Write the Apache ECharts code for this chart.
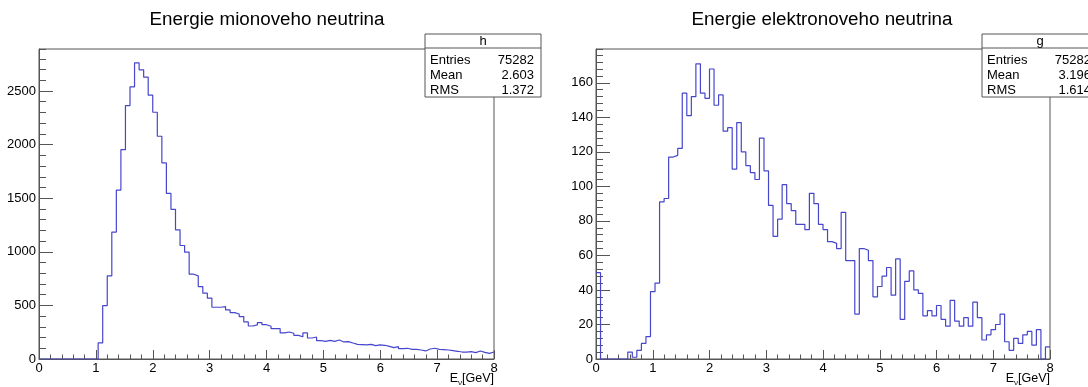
<!DOCTYPE html>
<html>
<head>
<meta charset="utf-8">
<script src="https://cdn.jsdelivr.net/npm/echarts@6/dist/echarts.min.js"></script>
<style>
  html, body { margin: 0; padding: 0; background: #fff; }
  #chart { width: 1088px; height: 387px; }
</style>
</head>
<body>
<div id="chart"></div>
<script>
// histogram binning: 100 bins from 0 to 8 GeV
const xMin = 0;
const xMax = 8;
const binWidth = 0.08;

// muon neutrino energy, counts per bin
const muonCounts = [
  0, 0, 0, 0, 0, 0, 0, 0, 0, 0,
  0, 0, 0, 150, 498, 776, 1184, 1576, 1953, 2364,
  2539, 2763, 2698, 2629, 2461, 2302, 2078, 1829, 1545, 1396,
  1205, 1059, 997, 791, 776, 676, 614, 567, 483, 483,
  489, 458, 433, 420, 396, 346, 308, 318, 340, 320,
  305, 283, 283, 243, 252, 240, 221, 208, 243, 196,
  205, 171, 165, 174, 165, 177, 159, 162, 149, 137,
  134, 131, 137, 125, 131, 128, 118, 106, 115, 96,
  100, 90, 90, 84, 75, 93, 100, 90, 87, 84,
  78, 72, 65, 65, 68, 59, 75, 62, 53, 65
];

// electron neutrino energy, counts per bin
const electronCounts = [
  50, 0, 0, 0, 0, 0, 0, 4, 1, 5,
  9, 13, 39, 44, 91, 93, 117, 118, 122, 154,
  141, 152, 171, 154, 151, 168, 147, 153, 132, 134,
  110, 137, 120, 112, 108, 104, 128, 109, 89, 71,
  81, 101, 90, 86, 78, 78, 75, 96, 90, 78,
  75, 68, 67, 64, 85, 57, 57, 26, 64, 63,
  57, 36, 42, 48, 53, 37, 58, 23, 45, 51,
  40, 38, 25, 28, 25, 31, 23, 19, 34, 22,
  19, 24, 19, 33, 24, 11, 14, 17, 20, 26,
  10, 5, 12, 9, 14, 16, 8, 17, 0, 7
];

const titles = ["Energie mionoveho neutrina", "Energie elektronoveho neutrina"];
const statNames = ["h", "g"];
const statLabels = ["Entries", "Mean", "RMS"];
const muonStats = ["75282", "2.603", "1.372"];
const electronStats = ["75282", "3.196", "1.614"];

const yMaxes = [2892, 179.6];
const yMajor = [500, 20];
const yMinor = [100, 4];

function stepData(counts) {
  const pts = counts.map((v, i) => [xMin + i * binWidth, v]);
  pts.push([xMax, counts[counts.length - 1]]);
  return pts;
}

const axisColor = "#555";
const lineColor = "#4646cc";
const font = "Liberation Sans, Arial, Helvetica, sans-serif";

const grids = [
  { left: 39, top: 49, width: 455, height: 310 },
  { left: 596, top: 49, width: 454, height: 310 }
];

const xAxes = grids.map((g, i) => ({
  type: "value",
  gridIndex: i,
  min: xMin,
  max: xMax,
  interval: 1,
  axisLine: { lineStyle: { color: axisColor, width: 1 } },
  axisTick: { inside: true, length: 9, lineStyle: { color: axisColor } },
  minorTick: { show: true, splitNumber: 5, length: 4.5, lineStyle: { color: axisColor } },
  splitLine: { show: false },
  axisLabel: { color: "#000", fontSize: 13, fontFamily: font, margin: 3 }
}));

const yAxes = [];
grids.forEach((g, i) => {
  yAxes.push({
    type: "value",
    gridIndex: i,
    position: "left",
    min: 0,
    max: yMaxes[i],
    interval: yMajor[i],
    axisLine: { show: true, lineStyle: { color: axisColor, width: 1 } },
    axisTick: { inside: true, length: 14, lineStyle: { color: axisColor } },
    splitLine: { show: false },
    axisLabel: {
      color: "#000", fontSize: 13, fontFamily: font, margin: 3, showMaxLabel: false,
      formatter: v => String(v)
    }
  });
  yAxes.push({
    type: "value",
    gridIndex: i,
    position: "left",
    min: 0,
    max: yMaxes[i],
    interval: yMinor[i],
    axisLine: { show: false },
    axisTick: { show: true, inside: true, length: 7, lineStyle: { color: axisColor } },
    splitLine: { show: false },
    axisLabel: { show: false }
  });
});

function statsBox(x, name, values) {
  const w = 116;
  const top = 34;
  const els = [
    { type: "rect", shape: { x: x, y: top, width: w, height: 63 },
      style: { fill: "#fff", stroke: axisColor, lineWidth: 1 }, z: 100 },
    { type: "line", shape: { x1: x, y1: 48, x2: x + w, y2: 48 },
      style: { stroke: axisColor, lineWidth: 1 }, z: 101 },
    { type: "text", x: x + w / 2, y: 41, z: 101,
      style: { text: name, fontSize: 13, fontFamily: font, fill: "#000", align: "center", verticalAlign: "middle" } }
  ];
  statLabels.forEach((lab, k) => {
    const y = 60 + k * 15.3;
    els.push({ type: "text", x: x + 5, y: y, z: 101,
      style: { text: lab, fontSize: 13, fontFamily: font, fill: "#000", align: "left", verticalAlign: "middle" } });
    els.push({ type: "text", x: x + w - 7, y: y, z: 101,
      style: { text: values[k], fontSize: 13, fontFamily: font, fill: "#000", align: "right", verticalAlign: "middle" } });
  });
  return els;
}

function axisTitle(xRight) {
  return { type: "text", x: xRight, y: 379, z: 101,
    style: {
      text: "{a|E}{b|ν}{a|[GeV]}",
      align: "right", verticalAlign: "middle",
      rich: {
        a: { fontSize: 12.5, fontFamily: font, fill: "#000" },
        b: { fontSize: 8, fontFamily: font, fill: "#000", padding: [7, 0, 0, 0] }
      }
    } };
}

const graphics = [
  { type: "text", x: 267, y: 20, z: 101,
    style: { text: titles[0], fontSize: 18.8, fontFamily: font, fill: "#000", align: "center", verticalAlign: "middle" } },
  { type: "text", x: 822, y: 20, z: 101,
    style: { text: titles[1], fontSize: 18.8, fontFamily: font, fill: "#000", align: "center", verticalAlign: "middle" } },
  axisTitle(494),
  axisTitle(1050),
  ...statsBox(425, statNames[0], muonStats),
  ...statsBox(982, statNames[1], electronStats)
];

const chart = echarts.init(document.getElementById("chart"), null, { renderer: "canvas" });
chart.setOption({
  animation: false,
  backgroundColor: "#fff",
  grid: grids.map(g => Object.assign({ show: true, borderColor: axisColor, borderWidth: 1, backgroundColor: "transparent" }, g)),
  xAxis: xAxes,
  yAxis: yAxes,
  series: [
    { type: "line", xAxisIndex: 0, yAxisIndex: 0, step: "end", symbol: "none",
      data: stepData(muonCounts), lineStyle: { color: lineColor, width: 1.2 } },
    { type: "line", xAxisIndex: 1, yAxisIndex: 2, step: "end", symbol: "none",
      data: stepData(electronCounts), lineStyle: { color: lineColor, width: 1.2 } }
  ],
  graphic: graphics
});
</script>
</body>
</html>
